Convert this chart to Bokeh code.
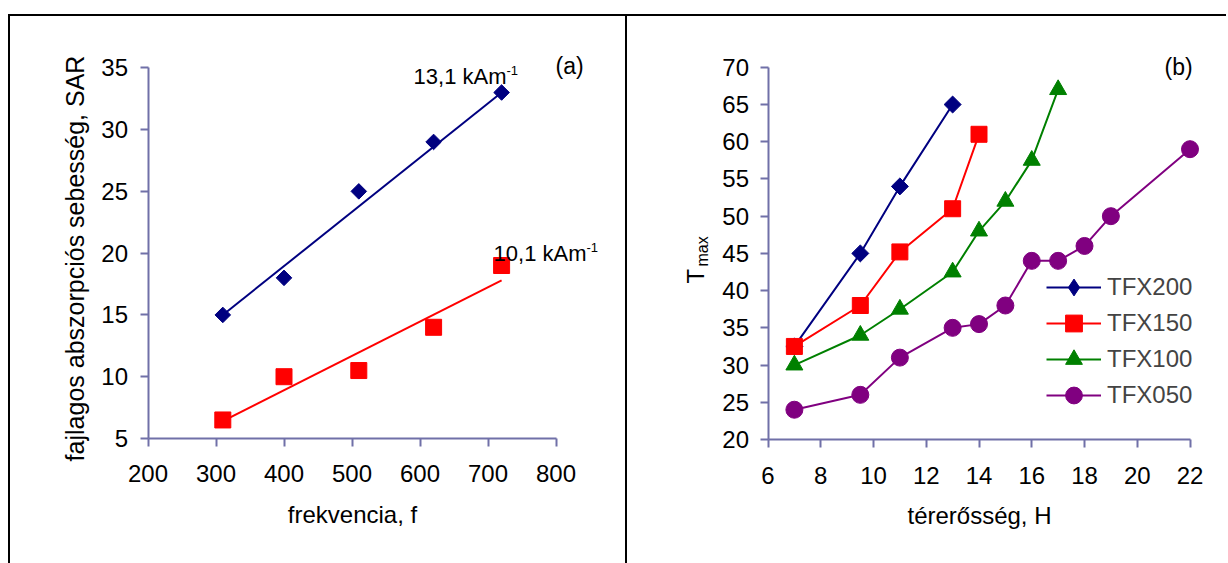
from math import pi

from bokeh.embed import file_html
from bokeh.layouts import row
from bokeh.models import Label, Legend, LegendItem, Range1d
from bokeh.plotting import figure
from bokeh.resources import INLINE

# ---- (a) specific absorption rate vs. frequency ----
freq = [310, 400, 510, 620, 720]
sar_131 = [15, 18, 25, 29, 33]          # 13,1 kA/m
sar_101 = [6.5, 10, 10.5, 14, 19]       # 10,1 kA/m
trend_freq = [310, 720]
trend_131 = [15.0, 33.0]
trend_101 = [6.4, 17.8]
freq_ticks = [200, 300, 400, 500, 600, 700, 800]
sar_ticks = [5, 10, 15, 20, 25, 30, 35]

# ---- (b) maximum temperature vs. field strength ----
h_200 = [7, 9.5, 11, 13]
t_200 = [32.5, 45, 54, 65]
h_150 = [7, 9.5, 11, 13, 14]
t_150 = [32.5, 38, 45.2, 51, 61]
h_100 = [7, 9.5, 11, 13, 14, 15, 16, 17]
t_100 = [30, 34, 37.5, 42.5, 48, 52, 57.5, 67]
h_050 = [7, 9.5, 11, 13, 14, 15, 16, 17, 18, 19, 22]
t_050 = [24, 26, 31, 35, 35.5, 38, 44, 44, 46, 50, 59]
h_ticks = [6, 8, 10, 12, 14, 16, 18, 20, 22]
t_ticks = [20, 25, 30, 35, 40, 45, 50, 55, 60, 65, 70]

FONT = "Liberation Sans"
AXIS = "#7070A8"
NAVY, RED, GREEN, PURPLE = "#000080", "#FF0000", "#008000", "#800080"

PAGE_H = 563
CANVAS_TOP = 16          # below the 14 px margin and the 2 px frame rule
CANVAS_H = PAGE_H - CANVAS_TOP
A_X0, A_W = 10, 615      # left panel canvas on the page
B_X0, B_W = 627, 601     # right panel canvas on the page


def span(v0, p0, v1, p1, size):
    """Range whose ends sit on pixels 0 and size when v0 is at p0 and v1 at p1."""
    k = (v1 - v0) / (p1 - p0)
    return Range1d(v0 - p0 * k, v0 + (size - p0) * k)


def style_axes(p, xb, yb):
    p.outline_line_color = None
    p.grid.visible = False
    p.background_fill_color = "white"
    p.border_fill_color = "white"
    p.min_border = 0
    p.xaxis.fixed_location = yb[0]
    p.yaxis.fixed_location = xb[0]
    p.xaxis.bounds = xb
    p.yaxis.bounds = yb
    for ax in p.axis:
        ax.axis_line_color = AXIS
        ax.axis_line_width = 2
        ax.major_tick_line_color = AXIS
        ax.major_tick_line_width = 2
        ax.major_tick_in = 0
        ax.major_tick_out = 8
        ax.minor_tick_line_color = None
        ax.major_label_text_font = FONT
        ax.major_label_text_font_size = "24px"
        ax.major_label_text_color = "black"
        ax.axis_label_text_font = FONT
        ax.axis_label_text_font_size = "24px"
        ax.axis_label_text_font_style = "normal"
        ax.axis_label_text_color = "black"


def page_label(p, canvas_left, px, py, text, size="24px", **kw):
    """Place a label (by its middle line) at a position on the page."""
    p.add_layout(Label(x=px - canvas_left, y=PAGE_H - py,
                       x_units="screen", y_units="screen", text=text,
                       text_font=FONT, text_font_size=size,
                       text_color="black", text_baseline="middle", **kw))


# ---------------- panel (a) ----------------
pa = figure(width=A_W, height=CANVAS_H, output_backend="svg", toolbar_location=None,
            x_range=span(200, 137.5, 800, 545.5, A_W),
            y_range=span(5, CANVAS_H - 422, 35, CANVAS_H - 51.3, CANVAS_H))
style_axes(pa, (200, 800), (5, 35))
pa.xaxis.ticker = freq_ticks
pa.yaxis.ticker = sar_ticks
pa.xaxis.major_label_standoff = 18
pa.yaxis.major_label_standoff = 12
pa.xaxis.axis_label = "frekvencia, f"
pa.xaxis.axis_label_standoff = 16

pa.line(trend_freq, trend_131, line_color=NAVY, line_width=2)
pa.line(trend_freq, trend_101, line_color=RED, line_width=2)
pa.scatter(freq, sar_131, marker="square", angle=pi / 4, size=11,
           fill_color=NAVY, line_color=NAVY)
pa.scatter(freq, sar_101, marker="square", size=16,
           fill_color=RED, line_color=RED)

page_label(pa, A_X0, 74.5, 258, "fajlagos abszorpciós sebesség, SAR", size="25px",
           angle=pi / 2, text_align="center")
page_label(pa, A_X0, 506, 75.5, "13,1 kAm", size="22px", text_align="right")
page_label(pa, A_X0, 506, 69.5, "-1", size="13px", text_align="left")
page_label(pa, A_X0, 586, 252.5, "10,1 kAm", size="22px", text_align="right")
page_label(pa, A_X0, 586, 246.5, "-1", size="13px", text_align="left")
page_label(pa, A_X0, 555, 65, "(a)", size="23px", text_align="left")

# ---------------- panel (b) ----------------
pb = figure(width=B_W, height=CANVAS_H, output_backend="svg", toolbar_location=None,
            x_range=span(6, 140.5, 22, 562.5, B_W),
            y_range=span(20, CANVAS_H - 423, 70, CANVAS_H - 50.8, CANVAS_H),
            styles={"border-left": "2px solid black"})
style_axes(pb, (6, 22), (20, 70))
pb.xaxis.ticker = h_ticks
pb.yaxis.ticker = t_ticks
pb.xaxis.major_label_standoff = 19
pb.yaxis.major_label_standoff = 11
pb.xaxis.axis_label = "térerősség, H"
pb.xaxis.axis_label_standoff = 15

series = [
    ("TFX200", h_200, t_200, NAVY, dict(marker="square", angle=pi / 4, size=12)),
    ("TFX150", h_150, t_150, RED, dict(marker="square", size=16)),
    ("TFX100", h_100, t_100, GREEN, dict(marker="triangle", size=17)),
    ("TFX050", h_050, t_050, PURPLE, dict(marker="circle", size=17)),
]
legend_rows = [287, 323, 359, 395]      # page y of each legend entry
GLYPH_H = 42
for (name, hx, ty, col, mk), row_y in zip(series, legend_rows):
    ln = pb.line(hx, ty, line_color=col, line_width=2)
    swatch = None
    if mk.get("angle"):
        # legend swatches are drawn unrotated: an upright diamond, hidden
        # beneath the rotated squares, stands in for them in the legend
        swatch = pb.scatter(hx, ty, marker="diamond", size=11,
                            fill_color=col, line_color=col)
    sc = pb.scatter(hx, ty, fill_color=col, line_color=col, **mk)
    leg = Legend(items=[LegendItem(label=name, renderers=[ln, swatch or sc])],
                 location=(1046 - B_X0, PAGE_H - (row_y + GLYPH_H / 2)),
                 glyph_width=55, glyph_height=GLYPH_H, label_height=GLYPH_H,
                 spacing=0, padding=0, margin=0, label_standoff=6,
                 border_line_color=None, background_fill_alpha=0,
                 label_text_font=FONT, label_text_font_size="24px")
    pb.add_layout(leg)

page_label(pb, B_X0, 694.5, 283, "T", angle=pi / 2, text_align="left")
page_label(pb, B_X0, 702, 266, "max", size="16px", angle=pi / 2, text_align="left")
page_label(pb, B_X0, 1164, 66, "(b)", size="23px", text_align="left")

page = row(pa, pb, styles={"margin-top": "14px", "margin-left": "8px",
                           "border-top": "2px solid black",
                           "border-left": "2px solid black"})

with open("out.html", "w") as f:
    f.write(file_html(page, INLINE))
